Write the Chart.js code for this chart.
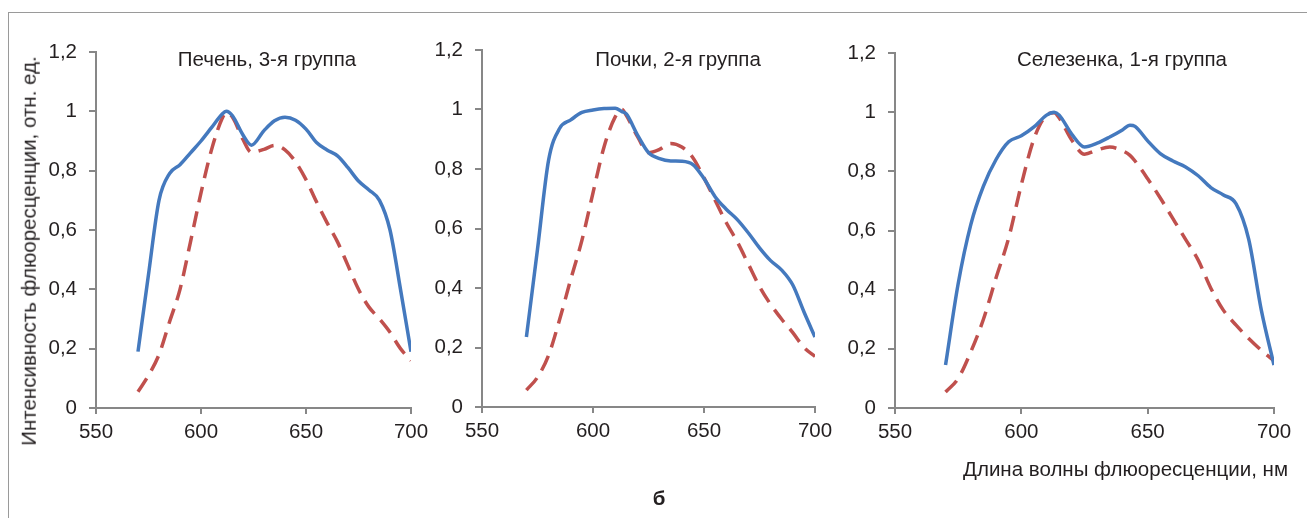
<!DOCTYPE html>
<html><head><meta charset="utf-8">
<script src="https://cdn.jsdelivr.net/npm/chart.js@4.4.1/dist/chart.umd.min.js"></script>
<style>
html,body{margin:0;padding:0;background:#fff;}
#wrap{position:relative;width:1307px;height:518px;overflow:hidden;font-family:'Liberation Sans',Arial,sans-serif;color:#231f20;}
canvas{position:absolute;left:0;top:0;}
.frame{position:absolute;left:8px;top:12px;width:1400px;height:600px;border-left:1px solid #9a9a9a;border-top:1px solid #9a9a9a;}
.t{position:absolute;font-size:20.5px;line-height:20.5px;white-space:nowrap;}
</style></head><body>
<div id="wrap">
<div class="frame"></div>
<canvas id="c1" width="1307" height="518"></canvas>
<canvas id="c2" width="1307" height="518"></canvas>
<canvas id="c3" width="1307" height="518"></canvas>
<div class="t" style="left:267px;top:49.4px;transform:translateX(-50%)">Печень, 3-я группа</div>
<div class="t" style="left:678px;top:49.4px;transform:translateX(-50%)">Почки, 2-я группа</div>
<div class="t" style="left:1122px;top:49.4px;transform:translateX(-50%)">Селезенка, 1-я группа</div>
<div class="t" style="right:19px;top:458.7px;">Длина волны флюоресценции, нм</div>
<div class="t" style="left:659px;top:487.7px;transform:translateX(-50%);font-weight:bold;">б</div>
<div class="t" style="left:29px;top:251px;transform:translate(-50%,-50%) rotate(-90deg);">Интенсивность флюоресценции, отн. ед.</div>
</div>
<script>
// Panel 1: Печень, 3-я группа
const liverX    = [570,575,580,585,590,595,600,605,610,612,615,620,624,630,635,640,645,650,655,660,665,670,675,680,685,690,695,700];
const liverBlue = [0.19,0.45,0.70,0.79,0.82,0.86,0.90,0.945,0.99,1.0,0.985,0.92,0.886,0.935,0.968,0.98,0.97,0.94,0.895,0.87,0.85,0.81,0.765,0.735,0.70,0.60,0.40,0.19];
const liverRed  = [0.055,0.11,0.18,0.29,0.40,0.56,0.725,0.87,0.975,0.995,0.98,0.905,0.862,0.872,0.885,0.87,0.83,0.77,0.695,0.625,0.56,0.48,0.40,0.34,0.30,0.255,0.20,0.16];
// Panel 2: Почки, 2-я группа
const kidneyX    = [570,575,580,585,590,595,600,605,610,613,615,620,625,630,635,640,645,650,655,660,665,670,675,680,685,690,695,700];
const kidneyBlue = [0.235,0.53,0.83,0.937,0.965,0.99,0.998,1.003,1.004,0.993,0.985,0.915,0.855,0.835,0.827,0.826,0.815,0.768,0.707,0.665,0.63,0.585,0.535,0.492,0.46,0.41,0.32,0.235];
const kidneyRed  = [0.057,0.10,0.174,0.295,0.43,0.56,0.72,0.875,0.975,1.0,0.98,0.91,0.855,0.866,0.886,0.874,0.838,0.77,0.695,0.62,0.555,0.48,0.405,0.345,0.295,0.25,0.20,0.17];
// Panel 3: Селезенка, 1-я группа
const spleenX    = [570,575,580,585,590,595,600,605,610,613,615,620,625,630,635,640,643,645,650,655,660,665,670,675,680,685,690,695,700];
const spleenBlue = [0.145,0.42,0.62,0.75,0.84,0.90,0.92,0.95,0.99,1.0,0.99,0.925,0.882,0.895,0.916,0.94,0.956,0.952,0.903,0.86,0.835,0.815,0.785,0.745,0.72,0.69,0.57,0.33,0.145];
const spleenRed  = [0.054,0.10,0.19,0.30,0.44,0.575,0.755,0.91,0.99,0.998,0.98,0.905,0.858,0.872,0.882,0.87,0.854,0.835,0.775,0.71,0.64,0.57,0.50,0.405,0.33,0.28,0.235,0.195,0.16];

const xTicks = [550,600,650,700];
const yTicks = [0,0.2,0.4,0.6,0.8,1,1.2];

const BLUE = '#4479be', RED = '#c0504d', AXIS = '#878787', TXT = '#231f20';
const FONT = {family:"'Liberation Sans', Arial, sans-serif", size:20.5};

function pts(xs, ys){ return xs.map((x,i)=>({x:x, y:ys[i]})); }
function fmt(v){ return String(Math.round(v*10)/10).replace('.', ','); }

function makeChart(id, xs, blue, red, pad){
  new Chart(document.getElementById(id), {
    type:'line',
    data:{datasets:[
      {data:pts(xs, blue), borderColor:BLUE, borderWidth:3.5, pointRadius:0, cubicInterpolationMode:'monotone', fill:false},
      {data:pts(xs, red), borderColor:RED, borderWidth:3.5, borderDash:[16,9], pointRadius:0, cubicInterpolationMode:'monotone', fill:false}
    ]},
    options:{
      responsive:false, animation:false, devicePixelRatio:1,
      layout:{padding:pad},
      plugins:{legend:{display:false}, tooltip:{enabled:false}, title:{display:false}},
      scales:{
        x:{type:'linear', min:550, max:700,
           afterBuildTicks:(s)=>{ s.ticks = xTicks.map(v=>({value:v})); },
           afterFit:(s)=>{ s.height = 50; },
           ticks:{color:TXT, font:FONT, padding:6, maxRotation:0, autoSkip:false},
           grid:{drawOnChartArea:false, drawTicks:true, tickLength:6, color:AXIS, lineWidth:2},
           border:{display:true, color:AXIS, width:2}},
        y:{type:'linear', min:0, max:1.2,
           afterBuildTicks:(s)=>{ s.ticks = yTicks.map(v=>({value:v})); },
           afterFit:(s)=>{ s.width = 60; },
           ticks:{color:TXT, font:FONT, padding:12, autoSkip:false, callback:(v)=>fmt(v)},
           grid:{drawOnChartArea:false, drawTicks:true, tickLength:7, color:AXIS, lineWidth:2},
           border:{display:true, color:AXIS, width:2}}
      }
    }
  });
}

makeChart('c1', liverX, liverBlue, liverRed, {left:36, right:896, top:52, bottom:60});
makeChart('c2', kidneyX, kidneyBlue, kidneyRed, {left:422, right:492, top:50, bottom:61});
makeChart('c3', spleenX, spleenBlue, spleenRed, {left:835, right:33, top:53, bottom:60});
</script>
</body></html>
